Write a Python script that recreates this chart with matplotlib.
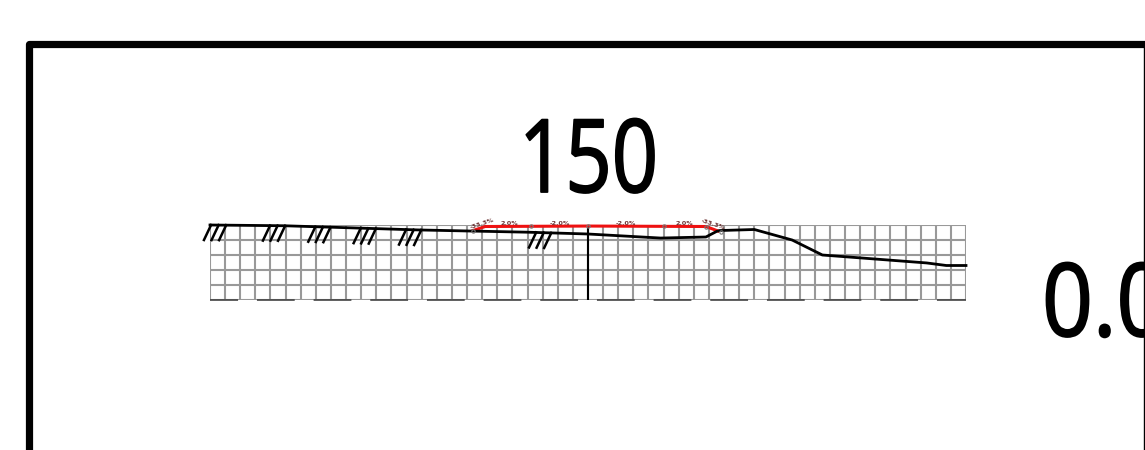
import matplotlib.pyplot as plt
import numpy as np
import matplotlib.patheffects as pe
from matplotlib.transforms import Affine2D

plt.rcParams['lines.scale_dashes'] = False

W, H = 1145, 450
DPI = 100

# stations in grid cells from the centre line, elevations in cells above the grid bottom
ground_x = [-25.0, -20.1, -11.2, -7.9, -4.0, 0.0, 4.8, 7.8, 8.5, 8.7, 11.0, 13.5, 15.5, 22.4, 23.7, 25.0]
ground_y = [5.0, 4.95, 4.67, 4.6, 4.52, 4.4, 4.13, 4.2, 4.57, 4.63, 4.7, 4.0, 3.0, 2.47, 2.3, 2.3]
road_x = [-7.6, -6.8, 0.0, 7.8, 8.6]
road_y = [4.63, 4.9, 4.93, 4.9, 4.6]
node_x = [-7.6, -3.8, 0.0, 5.0, 7.8, 8.8]
node_y = [4.63, 4.92, 4.93, 4.91, 4.9, 4.55]
slope_x = [-7.0, -5.2, -1.85, 2.5, 6.35, 8.3]
slope_y = [5.1, 5.1, 5.07, 5.07, 5.07, 5.02]
slope_labels = ['-33.3%', '2.0%', '-2.0%', '-2.0%', '2.0%', '-33.3%']
slope_angle = [18, 0, 0, 0, 0, -18]
hatch_x = [-25.4, -21.5, -18.5, -15.5, -12.5, -3.9]
hatch_drop = [1.0, 1.0, 1.0, 1.0, 1.0, 1.0]

border_x = [28.8, 28.8, 1150]
border_y = [455, 44, 44]
right_x = [1144, 1144]
right_y = [44, 455]

station_title = '150'
offset_label = '0.0'


class Squeezed(pe.AbstractPathEffect):
    # narrows the glyphs about x0 and rounds them off, the drawing's font is a narrow stroke font
    def __init__(self, x0, sx=0.8, linewidth=1.3):
        super().__init__()
        self.x0 = x0
        self.sx = sx
        self.linewidth = linewidth

    def draw_path(self, renderer, gc, tpath, affine, rgbFace=None):
        squeeze = affine + Affine2D().translate(-self.x0, 0).scale(self.sx, 1).translate(self.x0, 0)
        gc0 = renderer.new_gc()
        gc0.copy_properties(gc)
        gc0.set_linewidth(self.linewidth)
        gc0.set_foreground('black')
        gc0.set_joinstyle('round')
        gc0.set_capstyle('round')
        renderer.draw_path(gc0, tpath, squeeze, rgbFace)
        gc0.restore()


fig = plt.figure(figsize=(W / DPI, H / DPI), dpi=DPI)

# page frame and the big labels, in pixels
page = fig.add_axes([0, 0, 1, 1])
page.set_xlim(0, W)
page.set_ylim(H, 0)
page.axis('off')
page.plot(border_x, border_y, color='black', lw=5.2, solid_joinstyle='round')
page.plot(right_x, right_y, color='black', lw=1.0)

big = dict(family=['Open Sans', 'DejaVu Sans'], fontsize=73, color='black', ha='left', va='baseline')
page.text(519, 192, station_title, path_effects=[Squeezed(519)], **big)
t = page.text(1042, 336, offset_label, path_effects=[Squeezed(1042, sx=0.88)], **big)
t.set_clip_path(plt.Rectangle((0, 0), 1144, H, transform=page.transData))
t.set_clip_on(True)

# section grid
ax = fig.add_axes([210 / W, 1 - 300 / H, 756 / W, 75 / H])
ax.set_xlim(-25, 25)
ax.set_ylim(0, 5)
ax.axis('off')
ax.vlines(np.arange(-25, 26), 0, 5, color='#999999', lw=1.5, zorder=1)
ax.hlines(np.arange(0, 6), -25, 25, color='#999999', lw=1.5, zorder=1)

# datum line along the bottom
ax.plot([-25, 25], [0, 0], color='#444444', lw=1.2, zorder=2, clip_on=False,
        linestyle=(7, (27.2, 13.6)))

# centre line
ax.plot([0, 0], [0, 5], color='black', lw=1.5, zorder=3)

ax.plot(road_x, road_y, color='#ee1111', lw=2.2, zorder=3, clip_on=False)
ax.plot(ground_x, ground_y, color='black', lw=2.0, zorder=4, clip_on=False)

for hx, drop in zip(hatch_x, hatch_drop):
    for i in range(3):
        x0 = hx + i * 0.5
        top = np.interp(x0 + 0.47, ground_x, ground_y)
        ax.plot([x0, x0 + 0.47], [top - drop, top], color='black', lw=1.8, zorder=4, clip_on=False)

ax.plot(node_x, node_y, 'o', ms=2.4, mfc='none', mec='#777777', mew=0.8, zorder=5, clip_on=False)

for sx, sy, s, a in zip(slope_x, slope_y, slope_labels, slope_angle):
    ax.text(sx, sy, s, fontsize=4.6, color='#6e3434', fontweight='bold', ha='center', va='center',
            rotation=a, zorder=6)

fig.savefig('out.png', dpi=DPI)
